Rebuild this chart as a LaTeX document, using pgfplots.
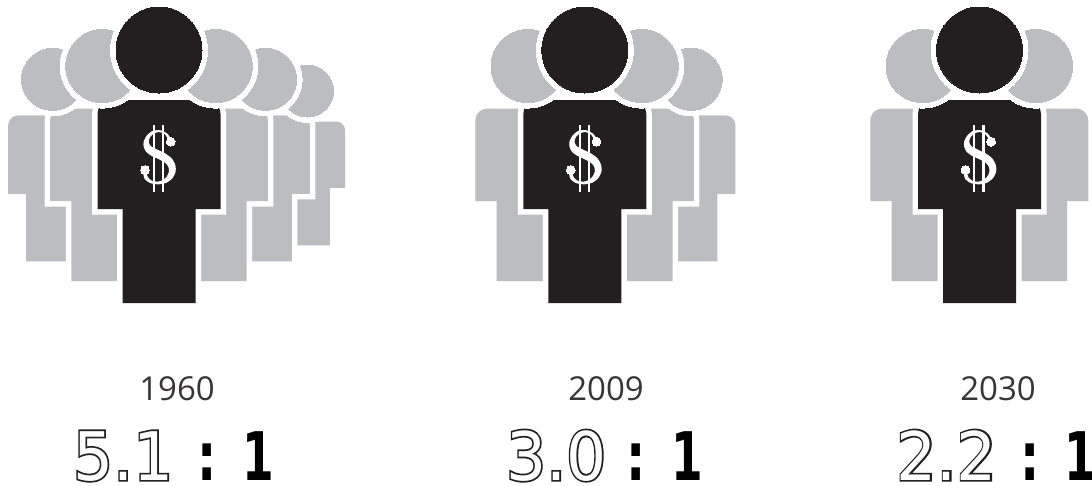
\documentclass[border=0pt]{standalone}
\usepackage{fontspec}
\usepackage{pgfplots}
\usepackage{pgfplotstable}
\pgfplotsset{compat=1.18}
\setmainfont{Open Sans}
\newfontfamily\outl[FakeBold=5]{DejaVu Sans}
\newfontfamily\plainn{DejaVu Sans}
\newfontfamily\boldn{DejaVu Sans Bold}
\definecolor{ink}{HTML}{231F20}
\definecolor{grayp}{HTML}{BBBDC0}
\pgfplotstableread{
x y
0 253
-36.5 253
-36.5 159
-61.5 159
-61.5 64
-60.8 59.7
-58.8 56
-55.9 53
-52.2 51
-47.5 50
47.5 50
52.2 51
55.9 53
58.8 56
60.8 59.7
61.5 64
61.5 159
36.5 159
36.5 253
0 253
}\silhouette
\pgfplotstableread{
x y
122 70
112 56
98 48
85 45
65 49
50 62
41 80
41 95
48 110
62 121
85 132
105 143
115 155
117 170
110 185
97 196
82 200
65 197
54 187
48 172
40 175
44 192
60 204
85 208
110 203
127 190
137 170
136 150
125 130
105 115
80 103
62 93
56 80
61 65
73 55
88 51
104 57
115 72
122 70
}\sglyph
\newcommand\person[5]{%
 \addplot[draw=white,fill=white,line width=11pt,miter limit=10] table[x expr=\thisrow{x}*#3+#1,y expr=\thisrow{y}*#3+#2]{\silhouette};
 \addplot[only marks,mark=*,mark size=#4+5.5,mark options={fill=white,draw=white,line width=0pt}] coordinates {(#1,#2)};
 \addplot[draw=none,fill=#5] table[x expr=\thisrow{x}*#3+#1,y expr=\thisrow{y}*#3+#2]{\silhouette};
 \addplot[only marks,mark=*,mark size=#4,mark options={fill=#5,draw=#5,line width=0pt}] coordinates {(#1,#2)};
}
\newcommand\dollar[1]{%
 \addplot[draw=none,fill=white,smooth,tension=0.4] table[x expr=\thisrow{x}/3+#1-29,y expr=\thisrow{y}/3+115]{\sglyph};
 \addplot[only marks,mark=*,mark size=4.4,mark options={fill=white,draw=white,line width=0pt}] coordinates {(#1+11.7,141.7) (#1-14,170)};
 \addplot[white,line width=2.1pt] coordinates {(#1-5.2,125) (#1-5.2,192)};
 \addplot[white,line width=2.1pt] coordinates {(#1+4,125) (#1+4,192)};
}
\newcommand\ratio[5]{%
 \node[text=ink!90,inner sep=0pt] at (axis cs:#2,388.5) {\fontsize{33}{36}\selectfont #1};
 \node[anchor=base east,inner sep=0pt,text=ink] at (axis cs:#4,480) {\scalebox{0.94}[1]{\outl\fontsize{67}{70}\selectfont #3}};
 \node[anchor=base east,inner sep=0pt,text=white] at (axis cs:#4,480) {\scalebox{0.94}[1]{\plainn\fontsize{67}{70}\selectfont #3}};
 \node[anchor=base,inner sep=0pt,text=black] at (axis cs:#5,480.5) {\scalebox{0.72}[1]{\boldn\fontsize{67}{70}\selectfont :}};
}
\newcommand\one[1]{\node[anchor=base,inner sep=0pt,text=black] at (axis cs:#1,480.5) {\makebox[20pt][c]{\scalebox{0.68}[1]{\boldn\fontsize{67}{70}\selectfont 1}}};}
\begin{document}
\begin{tikzpicture}
\begin{axis}[scale only axis,width=1092pt,height=485pt,xmin=0,xmax=1092,ymin=0,ymax=485,y dir=reverse,hide axis,clip=false]
\addplot[draw=none,fill=white] coordinates {(0,0) (1092,0) (1092,485) (0,485)};
% 1960
\person{307.5}{91}{0.61}{26}{grayp}
\person{52.5}{79.3}{0.72}{31}{grayp}
\person{265.6}{79.3}{0.72}{31}{grayp}
\person{102.3}{66}{0.85}{36.6}{grayp}
\person{215.7}{66}{0.85}{36.6}{grayp}
\person{159}{50}{1}{43}{ink}
\dollar{159}
% 2009
\person{691.2}{79.3}{0.72}{31}{grayp}
\person{527.6}{66}{0.85}{36.6}{grayp}
\person{641.7}{66}{0.85}{36.6}{grayp}
\person{584.8}{50}{1}{43}{ink}
\dollar{584.8}
% 2030
\person{922.6}{66}{0.85}{36.6}{grayp}
\person{1036}{66}{0.85}{36.6}{grayp}
\person{979.5}{50}{1}{43}{ink}
\dollar{979.5}
\ratio{1960}{177}{5.1}{173.5}{206.7}
\one{258}
\ratio{2009}{606}{3.0}{606.5}{636}
\one{687}
\ratio{2030}{998}{2.2}{997}{1029.7}
\one{1080}
\end{axis}
\pgfresetboundingbox
\path[use as bounding box] (0,0) rectangle (1092pt,485pt);
\end{tikzpicture}
\end{document}
